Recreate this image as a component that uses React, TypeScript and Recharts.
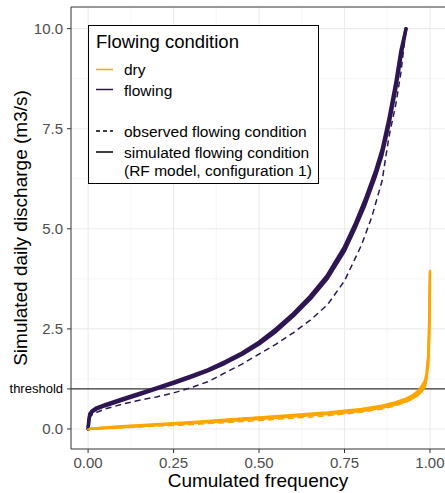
import React from "react";
import {
  CartesianGrid,
  Label,
  Line,
  LineChart,
  ReferenceLine,
  XAxis,
  YAxis,
} from "recharts";

// cumulated frequency vs simulated daily discharge (m3/s)
const flowSimFreq = [0, 0.002, 0.005, 0.012, 0.025, 0.05, 0.1, 0.15, 0.2, 0.25, 0.3, 0.35, 0.4, 0.45, 0.5, 0.55, 0.6, 0.65, 0.7, 0.75, 0.78, 0.81, 0.84, 0.86, 0.88, 0.9, 0.915, 0.93];
const flowSimRunA = [0, 0.18, 0.34, 0.43, 0.5, 0.58, 0.72, 0.86, 1.0, 1.14, 1.29, 1.45, 1.64, 1.86, 2.12, 2.44, 2.82, 3.25, 3.76, 4.45, 5.0, 5.6, 6.3, 6.85, 7.6, 8.5, 9.3, 10.0];
const flowSimRunB = [0, 0.22, 0.38, 0.46, 0.53, 0.61, 0.75, 0.89, 1.03, 1.17, 1.32, 1.48, 1.68, 1.9, 2.17, 2.5, 2.88, 3.32, 3.84, 4.55, 5.1, 5.72, 6.42, 6.98, 7.75, 8.65, 9.45, 10.0];

const flowObsFreq = [0, 0.003, 0.008, 0.02, 0.05, 0.1, 0.15, 0.2, 0.25, 0.3, 0.35, 0.4, 0.45, 0.5, 0.55, 0.6, 0.65, 0.7, 0.75, 0.8, 0.83, 0.86, 0.88, 0.9, 0.915, 0.93];
const flowObs = [0, 0.2, 0.33, 0.4, 0.5, 0.62, 0.72, 0.8, 0.9, 1.03, 1.18, 1.4, 1.62, 1.87, 2.12, 2.4, 2.72, 3.1, 3.7, 4.6, 5.3, 6.2, 7.3, 8.1, 8.9, 10.0];

const drySimFreq = [0, 0.05, 0.1, 0.2, 0.3, 0.4, 0.5, 0.6, 0.7, 0.8, 0.86, 0.9, 0.93, 0.95, 0.965, 0.975, 0.985, 0.99, 0.995, 0.998, 1.0];
const dryRunA = [0, 0.03, 0.06, 0.11, 0.16, 0.22, 0.28, 0.33, 0.39, 0.47, 0.55, 0.63, 0.71, 0.79, 0.88, 0.96, 1.1, 1.32, 1.75, 2.6, 3.95];
const dryRunB = [0, 0.02, 0.04, 0.09, 0.14, 0.19, 0.25, 0.31, 0.37, 0.45, 0.53, 0.61, 0.69, 0.77, 0.85, 0.93, 1.05, 1.25, 1.6, 2.3, 3.6];
const dryRunC = [0, 0.04, 0.07, 0.12, 0.17, 0.23, 0.29, 0.35, 0.41, 0.5, 0.58, 0.67, 0.76, 0.85, 0.95, 1.06, 1.2, 1.4, 1.85, 2.8, 3.9];

const dryObsFreq = [0, 0.1, 0.2, 0.3, 0.4, 0.5, 0.6, 0.7, 0.8, 0.86, 0.9, 0.93, 0.95, 0.965, 0.975, 0.985, 0.99, 0.995, 0.998, 1.0];
const dryObs = [0, 0.03, 0.07, 0.11, 0.16, 0.21, 0.27, 0.33, 0.42, 0.5, 0.58, 0.67, 0.76, 0.85, 0.95, 1.1, 1.35, 1.8, 2.6, 3.7];

const THRESHOLD = 1;
const X_TICKS = [0, 0.25, 0.5, 0.75, 1];
const X_MINOR = [0.125, 0.375, 0.625, 0.875];
const Y_TICKS = [0, THRESHOLD, 2.5, 5, 7.5, 10];
const Y_MAJOR = [0, 2.5, 5, 7.5, 10];
const Y_MINOR = [1.25, 3.75, 6.25, 8.75];

const DRY = "#FFA500";
const FLOWING = "#2D1652";
const FONT = "'Liberation Sans', Arial, sans-serif";

const zip = (xs: number[], ys: number[]) => xs.map((x, i) => ({ x, y: ys[i] }));

const simSeries = [
  { key: "flowA", data: zip(flowSimFreq, flowSimRunA), color: FLOWING, width: 3.4 },
  { key: "flowB", data: zip(flowSimFreq, flowSimRunB), color: FLOWING, width: 3.4 },
  { key: "dryA", data: zip(drySimFreq, dryRunA), color: DRY, width: 2.4 },
  { key: "dryB", data: zip(drySimFreq, dryRunB), color: DRY, width: 2.4 },
  { key: "dryC", data: zip(drySimFreq, dryRunC), color: DRY, width: 2.4 },
];
const obsSeries = [
  { key: "flowObs", data: zip(flowObsFreq, flowObs), color: FLOWING },
  { key: "dryObs", data: zip(dryObsFreq, dryObs), color: DRY },
];

function YTick({ x, y, payload }: any) {
  if (payload.value === THRESHOLD) {
    return (
      <text x={x} y={y} dy={4.5} textAnchor="end" fontSize={13} fill="#000" fontFamily={FONT}>
        threshold
      </text>
    );
  }
  return (
    <text x={x} y={y} dy={5.2} textAnchor="end" fontSize={15} fill="#4D4D4D" fontFamily={FONT}>
      {payload.value.toFixed(1)}
    </text>
  );
}

function LegendBox() {
  const t = { fontFamily: FONT, fontSize: 15.5, fill: "#000" };
  return (
    <svg
      width={232}
      height={160}
      style={{ position: "absolute", left: 88, top: 25 }}
    >
      <rect x={0.5} y={0.5} width={230} height={158} fill="#fff" stroke="#000" strokeWidth={1} />
      <text x={8} y={23} fontFamily={FONT} fontSize={18.5} fill="#000">
        Flowing condition
      </text>
      <line x1={8} x2={25} y1={44.5} y2={44.5} stroke={DRY} strokeWidth={1.5} />
      <text x={36} y={50} {...t}>dry</text>
      <line x1={8} x2={25} y1={64.5} y2={64.5} stroke={FLOWING} strokeWidth={1.5} />
      <text x={36} y={70.5} {...t}>flowing</text>
      <line x1={8} x2={25} y1={106} y2={106} stroke="#000" strokeWidth={1.5} strokeDasharray="4 3" />
      <text x={36} y={112} {...t}>observed flowing condition</text>
      <line x1={8} x2={25} y1={127} y2={127} stroke="#000" strokeWidth={1.5} />
      <text x={36} y={133} {...t}>simulated flowing condition</text>
      <text x={36} y={151} {...t}>(RF model, configuration 1)</text>
    </svg>
  );
}

export default function App() {
  return (
    <div style={{ position: "absolute", left: 0, top: 0, width: 445, height: 493, background: "#fff" }}>
      <LineChart width={445} height={493} margin={{ top: 7, right: 0, bottom: 0, left: 0 }}>
        <CartesianGrid
          stroke="#F0F0F0"
          strokeWidth={0.6}
          horizontalValues={Y_MINOR}
          verticalValues={X_MINOR}
        />
        <CartesianGrid
          stroke="#EBEBEB"
          strokeWidth={1.1}
          horizontalValues={Y_MAJOR}
          verticalValues={X_TICKS}
        />
        <XAxis
          type="number"
          dataKey="x"
          domain={[-0.05, 1.044]}
          allowDataOverflow
          ticks={X_TICKS}
          tickFormatter={(v: number) => v.toFixed(2)}
          tick={{ fontSize: 15, fill: "#4D4D4D", fontFamily: FONT }}
          stroke="#333"
          tickSize={4}
          tickMargin={4}
          height={44}
        >
          <Label
            content={({ viewBox }: any) => (
              <text
                x={viewBox.x + viewBox.width / 2}
                y={viewBox.y + 38}
                textAnchor="middle"
                fontSize={19}
                fill="#000"
                fontFamily={FONT}
              >
                Cumulated frequency
              </text>
            )}
          />
        </XAxis>
        <YAxis
          type="number"
          dataKey="y"
          domain={[-0.5, 10.54]}
          allowDataOverflow
          ticks={Y_TICKS}
          tick={<YTick />}
          stroke="#333"
          tickSize={4}
          tickMargin={4}
          width={71}
        >
          <Label
            content={({ viewBox }: any) => {
              const cx = 27;
              const cy = viewBox.y + viewBox.height / 2;
              return (
                <text
                  x={cx}
                  y={cy}
                  transform={`rotate(-90, ${cx}, ${cy})`}
                  textAnchor="middle"
                  fontSize={19}
                  fill="#000"
                  fontFamily={FONT}
                >
                  Simulated daily discharge (m3/s)
                </text>
              );
            }}
          />
        </YAxis>
        <ReferenceLine y={10.54} stroke="#333" strokeWidth={1.1} />
        <ReferenceLine y={THRESHOLD} stroke="#333" strokeWidth={1.2} />
        {simSeries.map((s) => (
          <Line
            key={s.key}
            data={s.data}
            dataKey="y"
            type="linear"
            stroke={s.color}
            strokeWidth={s.width}
            strokeLinecap="round"
            strokeLinejoin="round"
            dot={false}
            activeDot={false}
            isAnimationActive={false}
          />
        ))}
        {obsSeries.map((s) => (
          <Line
            key={s.key}
            data={s.data}
            dataKey="y"
            type="linear"
            stroke={s.color}
            strokeWidth={1.5}
            strokeDasharray="6 4"
            dot={false}
            activeDot={false}
            isAnimationActive={false}
          />
        ))}
      </LineChart>
      <LegendBox />
    </div>
  );
}
